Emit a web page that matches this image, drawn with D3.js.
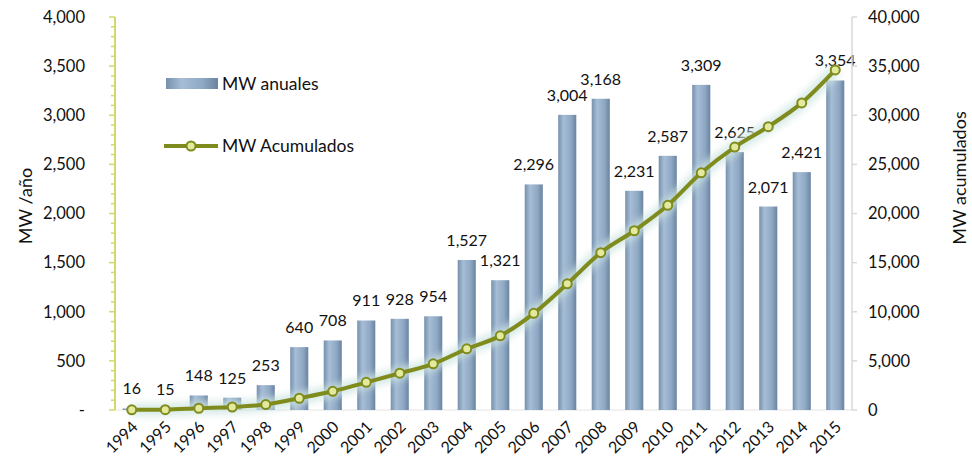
<!DOCTYPE html>
<html>
<head>
<meta charset="utf-8">
<script src="https://cdn.jsdelivr.net/npm/d3@7"></script>
<style>
  body { margin: 0; background: #fff; }
  svg text { font-family: Lato, "Liberation Sans", sans-serif; fill: #111; }
</style>
</head>
<body>
<div id="chart"></div>
<script>
// data
const years = ["1994","1995","1996","1997","1998","1999","2000","2001","2002","2003","2004",
  "2005","2006","2007","2008","2009","2010","2011","2012","2013","2014","2015"];
const anuales = [16, 15, 148, 125, 253, 640, 708, 911, 928, 954, 1527,
  1321, 2296, 3004, 3168, 2231, 2587, 3309, 2625, 2071, 2421, 3354];
const acumulados = [16, 31, 179, 304, 557, 1197, 1905, 2816, 3744, 4698, 6225,
  7546, 9842, 12846, 16014, 18245, 20832, 24141, 26766, 28837, 31258, 34612];
const leftTicks = [0, 500, 1000, 1500, 2000, 2500, 3000, 3500, 4000];
const rightTicks = [0, 5000, 10000, 15000, 20000, 25000, 30000, 35000, 40000];

const width = 972, height = 466;
const margin = { top: 17, bottom: 56, left: 115, right: 120 };

const svg = d3.select("#chart").append("svg")
  .attr("width", width).attr("height", height);

const defs = svg.append("defs");
const grad = defs.append("linearGradient").attr("id", "barGrad")
  .attr("x1", "0%").attr("x2", "100%").attr("y1", "0%").attr("y2", "0%");
grad.append("stop").attr("offset", "0%").attr("stop-color", "#7690ad");
grad.append("stop").attr("offset", "30%").attr("stop-color", "#a6bdd5");
grad.append("stop").attr("offset", "70%").attr("stop-color", "#8fa8c4");
grad.append("stop").attr("offset", "100%").attr("stop-color", "#6a83a0");

const glow = defs.append("filter").attr("id", "glow")
  .attr("x", "-10%").attr("y", "-10%").attr("width", "120%").attr("height", "120%");
glow.append("feGaussianBlur").attr("stdDeviation", 3.5);

const x = d3.scaleBand().domain(years)
  .range([margin.left, width - margin.right]).paddingInner(0.46).paddingOuter(0.23);
const yL = d3.scaleLinear().domain([0, 4000]).range([height - margin.bottom, margin.top]);
const yR = d3.scaleLinear().domain([0, 40000]).range([height - margin.bottom, margin.top]);

// faint baseline
svg.append("line")
  .attr("x1", margin.left).attr("x2", width - margin.right)
  .attr("y1", yL(0)).attr("y2", yL(0))
  .attr("stroke", "#e4e4e4").attr("stroke-width", 1);

// bars
svg.selectAll(".bar")
  .data(anuales)
  .join("rect")
  .attr("class", "bar")
  .attr("x", (d, i) => x(years[i]))
  .attr("width", x.bandwidth())
  .attr("y", d => yL(d))
  .attr("height", d => yL(0) - yL(d))
  .attr("fill", "url(#barGrad)");

// bar value labels
svg.selectAll(".blabel")
  .data(anuales)
  .join("text")
  .attr("class", "blabel")
  .attr("x", (d, i) => x(years[i]) + x.bandwidth() / 2)
  .attr("y", d => yL(d) - 14)
  .attr("text-anchor", "middle")
  .attr("font-size", 16)
  .text(d => d3.format(",")(d));

// left axis
const axL = svg.append("g").attr("transform", `translate(${margin.left},0)`);
axL.append("line").attr("y1", yL(0)).attr("y2", yL(4000))
  .attr("stroke", "#d3d86c").attr("stroke-width", 2);
axL.selectAll(".minor")
  .data(d3.range(0, 4001, 100))
  .join("line")
  .attr("x1", d => d % 500 === 0 ? -6 : -4).attr("x2", 0)
  .attr("y1", d => yL(d)).attr("y2", d => yL(d))
  .attr("stroke", "#d3d86c").attr("stroke-width", 1.5);
axL.selectAll(".tl")
  .data(leftTicks)
  .join("text")
  .attr("x", -30)
  .attr("y", d => yL(d))
  .attr("dy", "0.35em")
  .attr("text-anchor", "end")
  .attr("font-size", 16.5)
  .text(d => d === 0 ? "-" : d3.format(",")(d));

// right axis
const axR = svg.append("g").attr("transform", `translate(${width - margin.right},0)`);
axR.append("line").attr("y1", yR(0)).attr("y2", yR(40000))
  .attr("stroke", "#d9d9d9").attr("stroke-width", 1.5);
axR.selectAll(".rt")
  .data(rightTicks)
  .join("line")
  .attr("x1", 0).attr("x2", 5)
  .attr("y1", d => yR(d)).attr("y2", d => yR(d))
  .attr("stroke", "#d9d9d9").attr("stroke-width", 1.5);
axR.selectAll(".rl")
  .data(rightTicks)
  .join("text")
  .attr("x", 16)
  .attr("y", d => yR(d))
  .attr("dy", "0.35em")
  .attr("font-size", 16.5)
  .text(d => d3.format(",")(d));

// x labels
svg.selectAll(".xl")
  .data(years)
  .join("text")
  .attr("class", "xl")
  .attr("transform", d => `translate(${x(d) + x.bandwidth() / 2 + 7},${yL(0) + 18}) rotate(-45)`)
  .attr("text-anchor", "end")
  .attr("font-size", 16)
  .text(d => d);

// cumulative line
const line = d3.line()
  .x((d, i) => x(years[i]) + x.bandwidth() / 2)
  .y(d => yR(d))
  .curve(d3.curveMonotoneX);

svg.append("path").datum(acumulados)
  .attr("d", line)
  .attr("fill", "none")
  .attr("stroke", "#cfe6e2")
  .attr("stroke-width", 13)
  .attr("opacity", 0.8)
  .attr("filter", "url(#glow)");
svg.append("path").datum(acumulados)
  .attr("d", line)
  .attr("fill", "none")
  .attr("stroke", "#7f8b1d")
  .attr("stroke-width", 4);
svg.selectAll(".pt")
  .data(acumulados)
  .join("circle")
  .attr("class", "pt")
  .attr("cx", (d, i) => x(years[i]) + x.bandwidth() / 2)
  .attr("cy", d => yR(d))
  .attr("r", 4.5)
  .attr("fill", "#e3e99d")
  .attr("stroke", "#7f8b1d")
  .attr("stroke-width", 2);

// axis titles
svg.append("text")
  .attr("transform", `translate(32,206) rotate(-90)`)
  .attr("text-anchor", "middle")
  .attr("font-size", 18)
  .text("MW /año");
svg.append("text")
  .attr("transform", `translate(966,178) rotate(-90)`)
  .attr("text-anchor", "middle")
  .attr("font-size", 18)
  .text("MW acumulados");

// legend
const leg = svg.append("g");
leg.append("rect")
  .attr("x", 166).attr("y", 78).attr("width", 52).attr("height", 11)
  .attr("fill", "url(#barGrad)");
leg.append("text").attr("x", 222).attr("y", 84).attr("dy", "0.35em")
  .attr("font-size", 17.5).text("MW anuales");
leg.append("line")
  .attr("x1", 164).attr("x2", 218).attr("y1", 146).attr("y2", 146)
  .attr("stroke", "#7f8b1d").attr("stroke-width", 4);
leg.append("circle")
  .attr("cx", 191).attr("cy", 146).attr("r", 4.5)
  .attr("fill", "#e3e99d").attr("stroke", "#7f8b1d").attr("stroke-width", 2);
leg.append("text").attr("x", 222).attr("y", 146).attr("dy", "0.35em")
  .attr("font-size", 17.5).text("MW Acumulados");
</script>
</body>
</html>
